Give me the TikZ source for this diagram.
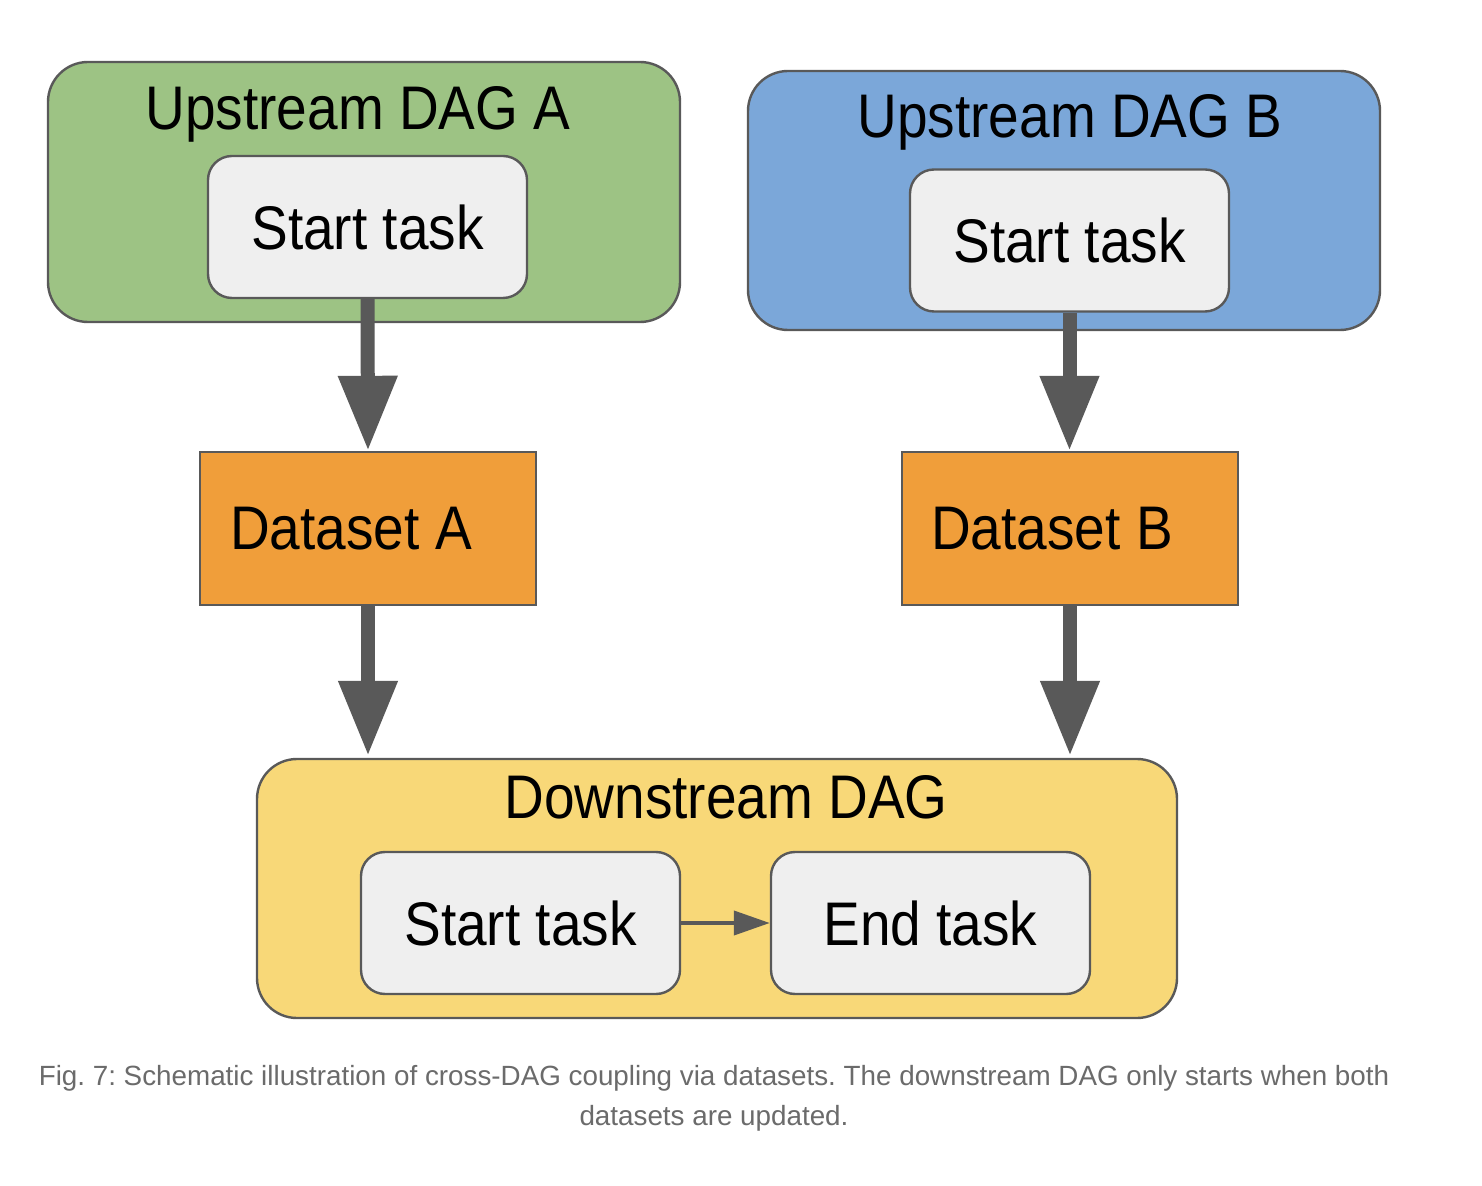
\documentclass[tikz,border=0pt]{standalone}
\usepackage{fontspec}
\usepackage{graphicx}
\setmainfont{Liberation Sans}
\usetikzlibrary{arrows.meta}
\definecolor{greenfill}{HTML}{9DC384}
\definecolor{bluefill}{HTML}{7BA7D9}
\definecolor{orangefill}{HTML}{F09E3A}
\definecolor{yellowfill}{HTML}{F8D878}
\definecolor{taskfill}{HTML}{EFEFEF}
\definecolor{edgegray}{HTML}{595959}
\definecolor{captiongray}{HTML}{6B6B6B}
\newcommand{\bt}[1]{\scalebox{1}[1.12]{#1}}
\frenchspacing
\tikzset{
  bigfont/.style={font=\fontsize{27.5}{33}\selectfont},
  group/.style={draw=edgegray, line width=1.2pt, rounded corners=20pt, inner sep=0pt},
  taskbox/.style={draw=edgegray, line width=1.2pt, rounded corners=12pt, fill=taskfill, inner sep=0pt,
    minimum width=159.5pt, minimum height=71pt, bigfont},
  databox/.style={draw=edgegray, line width=1.2pt, fill=orangefill, inner sep=0pt,
    minimum width=168pt, minimum height=76.5pt, bigfont},
  title/.style={anchor=base, inner sep=0pt, bigfont},
  bigarrow/.style={draw=edgegray, line width=7pt, -{Triangle[length=37.5pt,width=28pt]}},
  smallarrow/.style={draw=edgegray, line width=2pt, -{Triangle[length=18pt,width=12pt]}},
  captext/.style={text=captiongray, font=\fontsize{13.9}{16}\selectfont\frenchspacing, inner sep=0pt}
}
\begin{document}
\begin{tikzpicture}[x=0.5pt,y=-0.5pt]
\useasboundingbox[fill=white] (0,0) rectangle (1482,1186);
% groups
\node[group, fill=greenfill, minimum width=316pt, minimum height=130pt] (dagA) at (364,192) {};
\node[group, fill=bluefill, minimum width=316pt, minimum height=129.5pt] (dagB) at (1064,200.5) {};
\node[group, fill=yellowfill, minimum width=460pt, minimum height=129.5pt] (down) at (717,888.5) {};
% titles
\node[title] (titleA) at (358,130) {\bt{Upstream DAG A}};
\node[title] (titleB) at (1070,138) {\bt{Upstream DAG B}};
\node[title] (titleD) at (726,818) {\bt{Downstream DAG}};
% tasks
\node[taskbox] (startA) at (367.5,227) {\bt{Start task}};
\node[taskbox] (startB) at (1069.5,240.5) {\bt{Start task}};
\node[taskbox] (startC) at (520.5,923) {\bt{Start task}};
\node[taskbox] (endC) at (930.5,923) {\bt{End task}};
% datasets
\node[databox] (dsA) at (368,528.5) {\bt{Dataset A}\kern17pt\null};
\node[databox] (dsB) at (1070,528.5) {\bt{Dataset B}\kern18pt\null};
% arrows
\draw[bigarrow] (startA.south) -- (dsA.north);
\draw[bigarrow] (startB.south) -- (startB.south |- dsB.north);
\draw[bigarrow] (dsA.south) -- ([yshift=1pt]dsA.south |- down.north);
\draw[bigarrow] (dsB.south) -- ([yshift=1pt]dsB.south |- down.north);
\draw[smallarrow] (startC.east) -- (endC.west);
% caption
\node[captext] (cap1) at (714,1078) {Fig. 7: Schematic illustration of cross-DAG coupling via datasets. The downstream DAG only starts when both};
\node[captext] (cap2) at (714,1118) {datasets are updated.};
\end{tikzpicture}
\end{document}
